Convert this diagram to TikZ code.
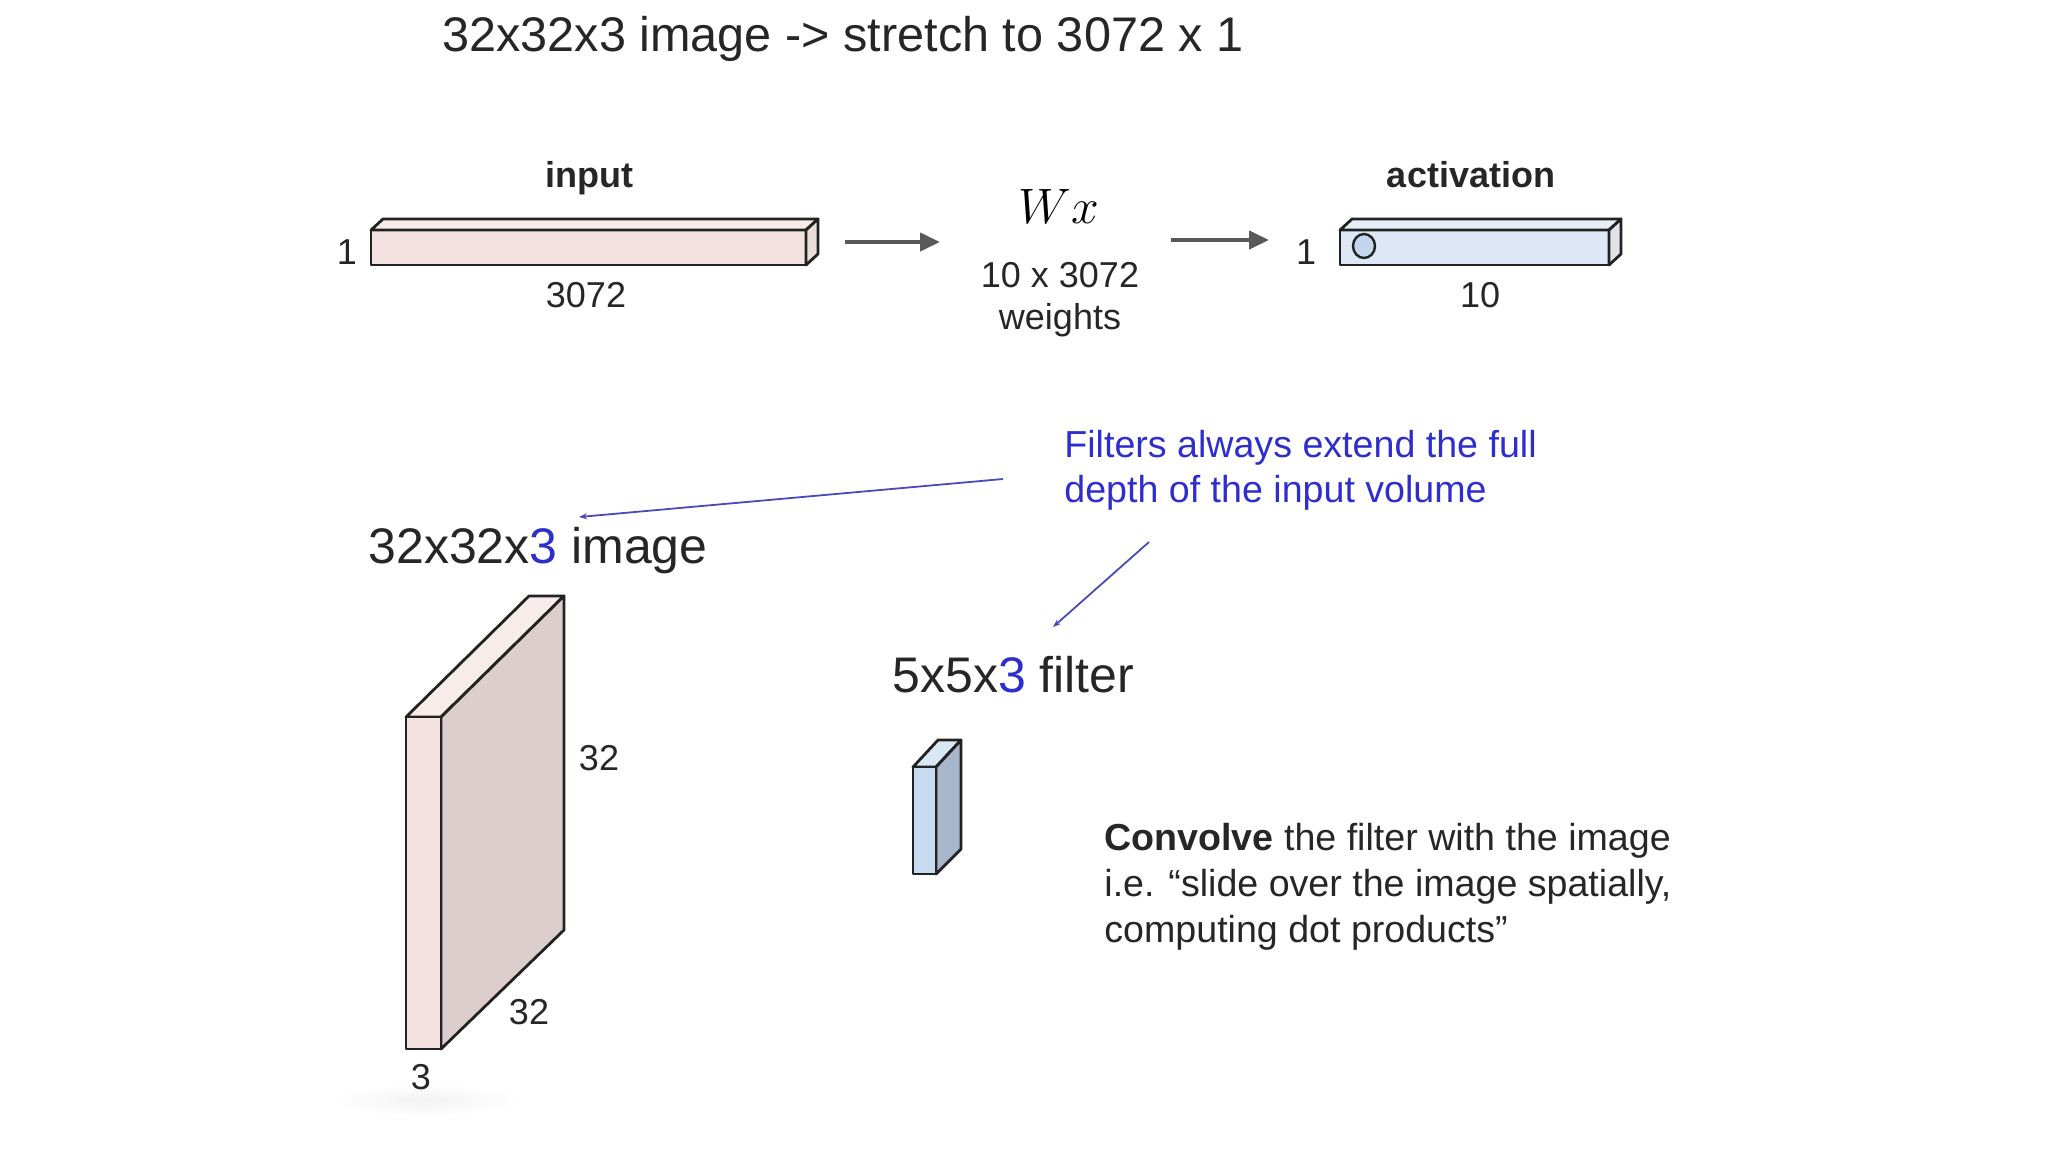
\documentclass[tikz,border=0pt]{standalone}
\usepackage{fontspec}
\setmainfont{Liberation Sans}
\usetikzlibrary{arrows.meta}
\definecolor{pinkfront}{HTML}{F3E2DF}
\definecolor{pinktop}{HTML}{F7ECEA}
\definecolor{pinkside}{HTML}{DCCECC}
\definecolor{pinkend}{HTML}{E9DCD9}
\definecolor{bluefront}{HTML}{C6DAF0}
\definecolor{bluetop}{HTML}{D9E6F4}
\definecolor{blueside}{HTML}{A7B6CB}
\definecolor{actfill}{HTML}{DDE7F5}
\definecolor{actend}{HTML}{DEE4E8}
\definecolor{circfill}{HTML}{C4D6EE}
\definecolor{notecol}{HTML}{2E2ECC}
\definecolor{notearrow}{HTML}{4A4AB8}
\definecolor{arrowgray}{HTML}{595959}
\definecolor{edge}{HTML}{222222}
\begin{document}
\begin{tikzpicture}[x=0.5pt,y=-0.5pt,
  face/.style={draw=edge, line width=1.4pt, line join=round},
  lbl/.style={font=\fontsize{18}{22}\selectfont, anchor=base, inner sep=0pt, text=black!85},
  boldlbl/.style={font=\fontsize{18}{22}\selectfont\bfseries, anchor=base, inner sep=0pt, text=black!85},
  biglbl/.style={font=\fontsize{25}{30}\selectfont, anchor=base west, inner sep=0pt, text=black!85},
  titlelbl/.style={font=\fontsize{24.3}{29}\selectfont, anchor=base, inner sep=0pt, text=black!85},
  notelbl/.style={font=\fontsize{18.8}{23}\selectfont, anchor=base west, inner sep=0pt, text=notecol},
  bodylbl/.style={font=\fontsize{18.8}{23}\selectfont, anchor=base west, inner sep=0pt, text=black!85},
  grayarrow/.style={draw=arrowgray, line width=2pt, -{Triangle[length=10pt,width=9pt]}},
  notearr/.style={draw=notearrow, line width=0.9pt, -{Stealth[length=4pt,width=3pt]}}
]
\useasboundingbox (0,0) rectangle (2048,1152);

% title
\node[titlelbl] (title) at (843,51) {32x32x3 image -> stretch to 3072 x 1};

% input bar
\fill[pinkfront] (371,230) rectangle (806,265);
\draw[face, fill=pinktop] (371,230) -- (383,219) -- (818,219) -- (806,230) -- cycle;
\draw[face, fill=pinkend] (806,230) -- (818,219) -- (818,254) -- (806,265) -- cycle;
\draw[face] (371,230) rectangle (806,265);
\node[boldlbl] (inputlbl) at (589,187) {input};
\node[lbl] (inone) at (347,264) {1};
\node[lbl] (inlen) at (586,307) {3072};

% arrows
\coordinate (a1s) at (845,242);
\coordinate (a1e) at (940,242);
\draw[grayarrow] (a1s) -- (a1e);
\coordinate (a2s) at (1171,240);
\coordinate (a2e) at (1269,240);
\draw[grayarrow] (a2s) -- (a2e);

% Wx
\node[font=\fontsize{29.5}{32}\selectfont, anchor=base, inner sep=0pt] (wx) at (1059,223) {$Wx$};
\node[lbl] (wdim) at (1060,287) {10 x 3072};
\node[lbl] (wlbl) at (1060,329) {weights};

% activation bar
\fill[actfill] (1340,230) rectangle (1609,265);
\draw[face, fill=actfill!70!white] (1340,230) -- (1352,219) -- (1621,219) -- (1609,230) -- cycle;
\draw[face, fill=actend] (1609,230) -- (1621,219) -- (1621,254) -- (1609,265) -- cycle;
\draw[face] (1340,230) rectangle (1609,265);
\draw[draw=edge, line width=1.2pt, fill=circfill] (1364,246) ellipse [x radius=11, y radius=12];
\node[boldlbl] (actlbl) at (1471,187) {activation};
\node[lbl] (actone) at (1306,264) {1};
\node[lbl] (actlen) at (1480,307) {10};

% note
\node[notelbl] (note1) at (1064,457) {Filters always extend the full};
\node[notelbl] (note2) at (1064,502) {depth of the input volume};
\coordinate (n1s) at (1003,479);
\coordinate (n1e) at (579,517);
\draw[notearr] (n1s) -- (n1e);
\coordinate (n2s) at (1149,542);
\coordinate (n2e) at (1053,627);
\draw[notearr] (n2s) -- (n2e);

% image label
\node[biglbl] (imglbl) at (368,563) {32x32x\textcolor{notecol}{3} image};

% shadow
\shade[inner color=black!5, outer color=white] (425,1100) ellipse [x radius=95, y radius=16];

% image volume
\draw[face, fill=pinktop] (406,717) -- (529,596) -- (564,596) -- (441,717) -- cycle;
\draw[face, fill=pinkside] (441,717) -- (564,596) -- (564,930) -- (441,1049) -- cycle;
\draw[face, fill=pinkfront] (406,717) rectangle (441,1049);
\node[lbl] (h32) at (599,770) {32};
\node[lbl] (w32) at (529,1024) {32};
\node[lbl] (d3) at (421,1089) {3};

% filter
\node[biglbl] (fltlbl) at (892,692) {5x5x\textcolor{notecol}{3} filter};
\draw[face, fill=bluetop] (913,767) -- (938,740) -- (961,740) -- (936,767) -- cycle;
\draw[face, fill=blueside] (936,767) -- (961,740) -- (961,849) -- (936,874) -- cycle;
\draw[face, fill=bluefront] (913,767) rectangle (936,874);

% convolve text
\node[bodylbl] (conv1) at (1104,850) {\textbf{Convolve} the filter with the image};
\node[bodylbl] (conv2) at (1104,896) {i.e. “slide over the image spatially,};
\node[bodylbl] (conv3) at (1104,942) {computing dot products”};
\end{tikzpicture}
\end{document}
